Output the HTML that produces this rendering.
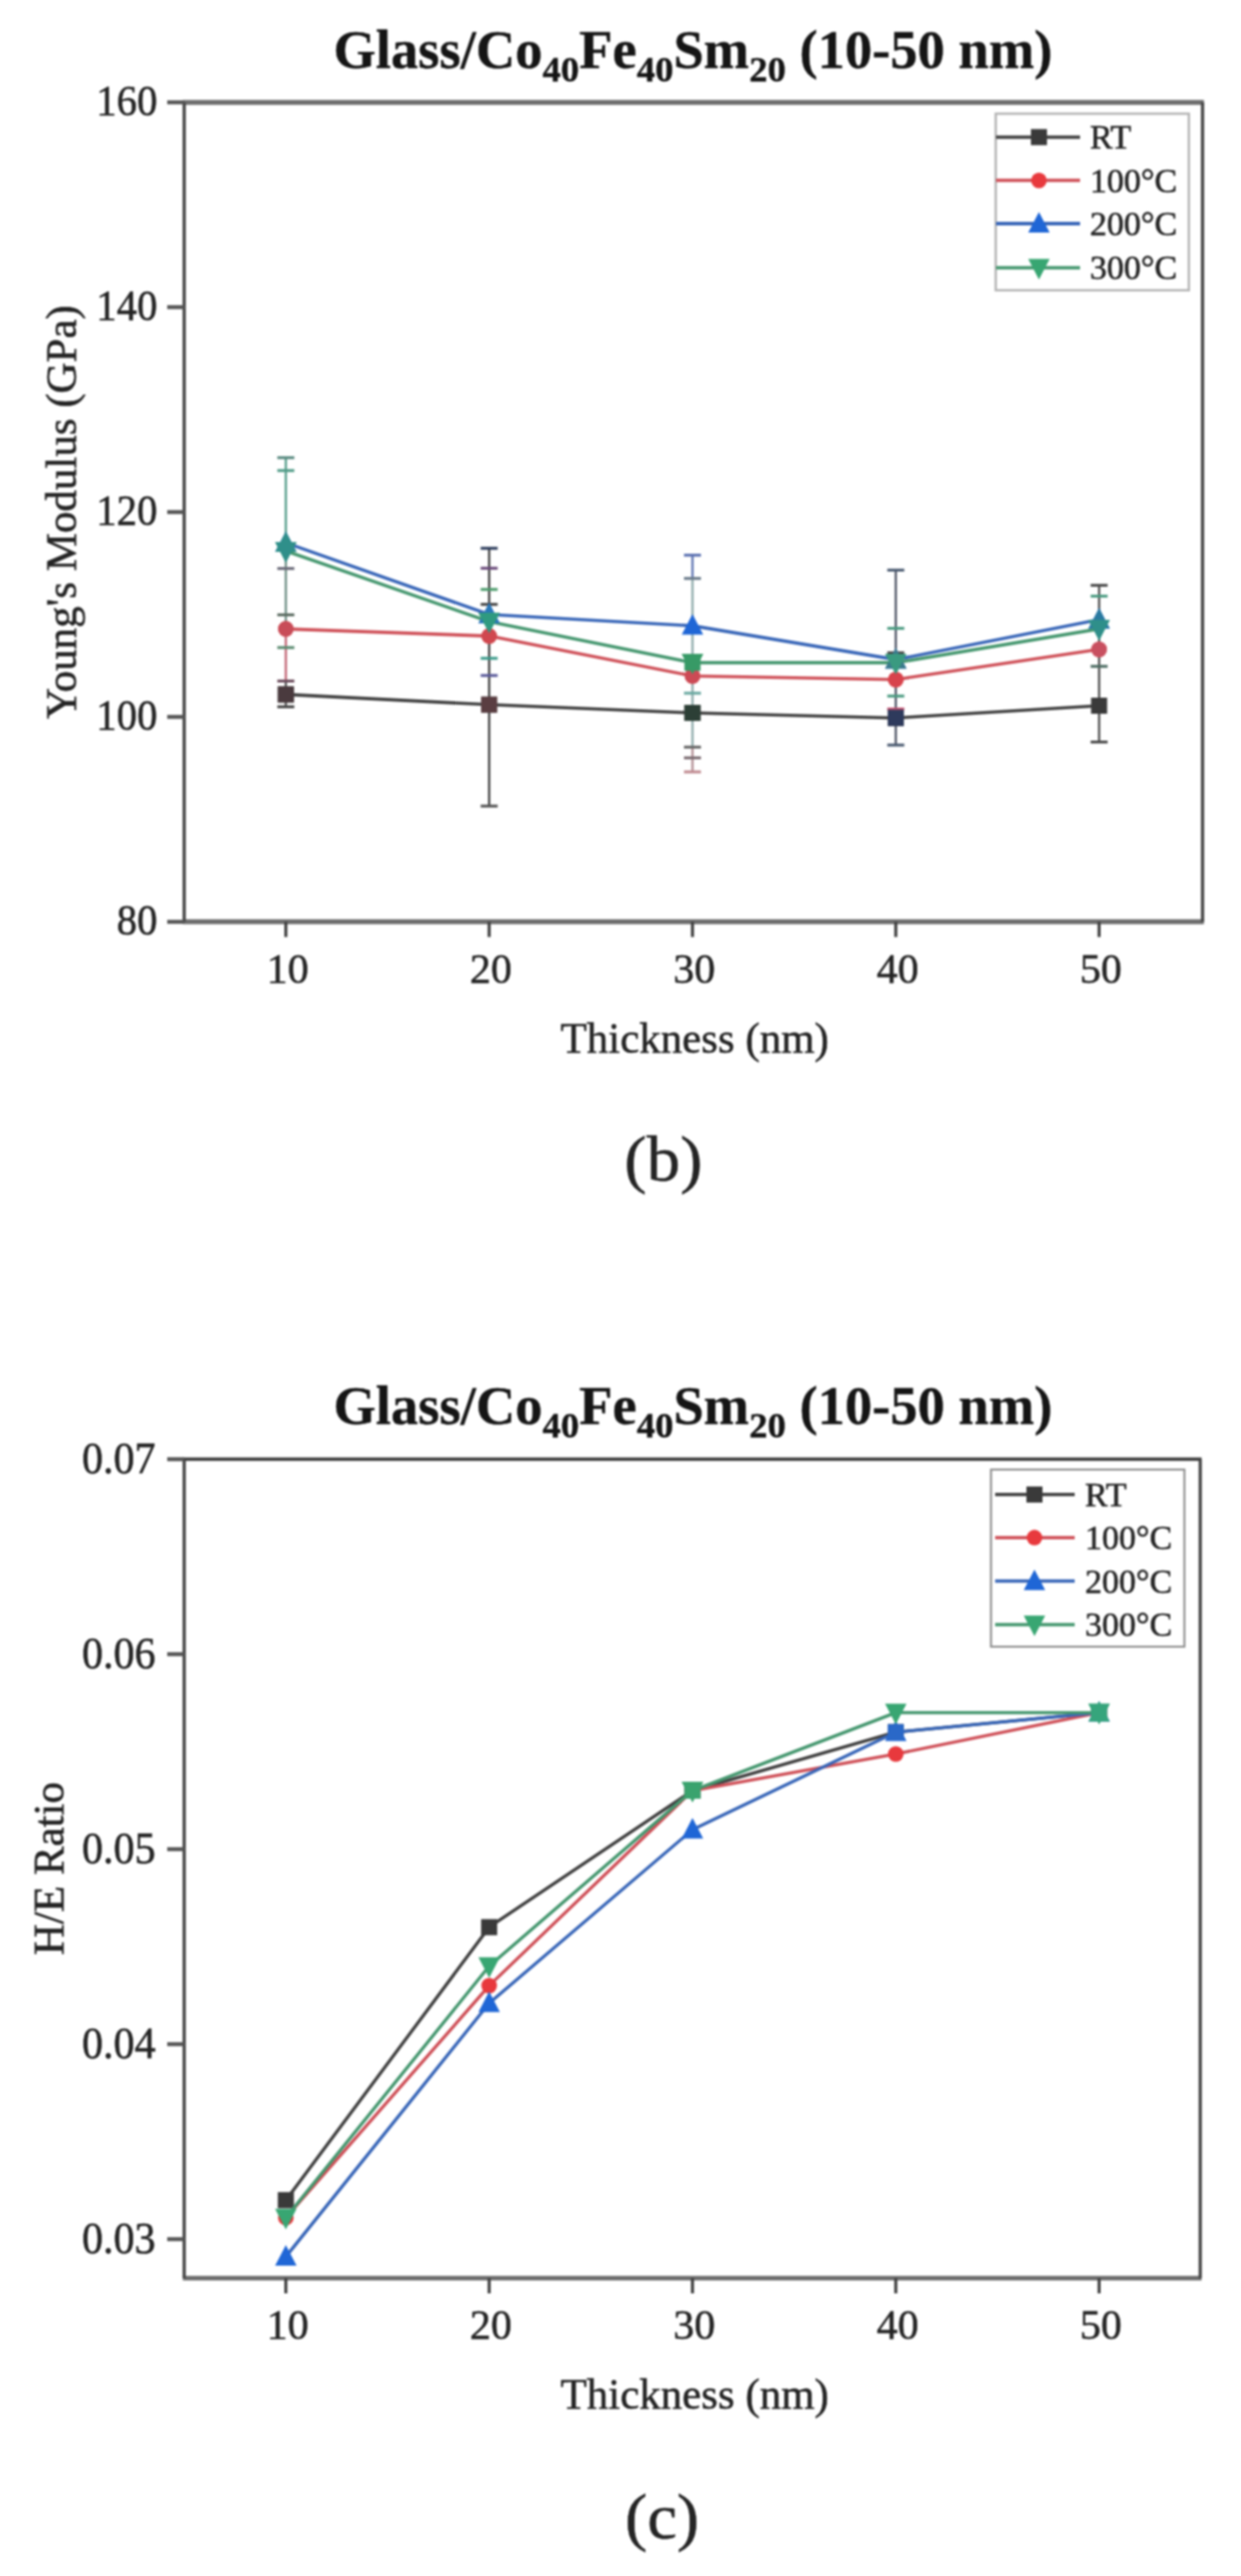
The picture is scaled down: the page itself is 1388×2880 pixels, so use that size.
<!DOCTYPE html>
<html><head><meta charset="utf-8"><style>
html,body{margin:0;padding:0;background:#fff;}
svg{display:block;filter:blur(1px);}
svg text{font-family:'Liberation Serif', serif;fill:#242424;stroke:#242424;stroke-width:0.6px;}
</style></head><body>
<svg width="1388" height="2880" viewBox="0 0 1388 2880">
<rect width="1388" height="2880" fill="#fff"/>
<text x="775" y="76" text-anchor="middle" font-size="61" font-weight="bold" style="fill:#151515;stroke:#151515;stroke-width:0.4px">Glass/Co<tspan font-size="41" dy="14.5">40</tspan><tspan dy="-14.5">Fe</tspan><tspan font-size="41" dy="14.5">40</tspan><tspan dy="-14.5">Sm</tspan><tspan font-size="41" dy="14.5">20</tspan><tspan dy="-14.5"> (10-50 nm)</tspan></text><line x1="204.5" y1="114.4" x2="1346.5" y2="114.4" stroke="#6e6e6e" stroke-width="5.5"/><line x1="204.5" y1="1030.6" x2="1346.5" y2="1030.6" stroke="#6e6e6e" stroke-width="5.5"/><line x1="206" y1="114.4" x2="206" y2="1030.6" stroke="#454545" stroke-width="3.6"/><line x1="1345" y1="114.4" x2="1345" y2="1030.6" stroke="#454545" stroke-width="3.6"/><line x1="187" y1="114.4" x2="206" y2="114.4" stroke="#555555" stroke-width="4.4"/><line x1="187" y1="343.4" x2="206" y2="343.4" stroke="#555555" stroke-width="4.4"/><line x1="187" y1="572.5" x2="206" y2="572.5" stroke="#555555" stroke-width="4.4"/><line x1="187" y1="801.5" x2="206" y2="801.5" stroke="#555555" stroke-width="4.4"/><line x1="187" y1="1030.6" x2="206" y2="1030.6" stroke="#555555" stroke-width="4.4"/><line x1="319.7" y1="1030.6" x2="319.7" y2="1047.6" stroke="#3e3e3e" stroke-width="3.4"/><line x1="547.1" y1="1030.6" x2="547.1" y2="1047.6" stroke="#3e3e3e" stroke-width="3.4"/><line x1="774.5" y1="1030.6" x2="774.5" y2="1047.6" stroke="#3e3e3e" stroke-width="3.4"/><line x1="1001.9" y1="1030.6" x2="1001.9" y2="1047.6" stroke="#3e3e3e" stroke-width="3.4"/><line x1="1229.3" y1="1030.6" x2="1229.3" y2="1047.6" stroke="#3e3e3e" stroke-width="3.4"/><text transform="translate(176,128.9) scale(1,1.07)" text-anchor="end" font-size="45.5">160</text><text transform="translate(176,357.9) scale(1,1.07)" text-anchor="end" font-size="45.5">140</text><text transform="translate(176,587.0) scale(1,1.07)" text-anchor="end" font-size="45.5">120</text><text transform="translate(176,816.0) scale(1,1.07)" text-anchor="end" font-size="45.5">100</text><text transform="translate(176,1045.1) scale(1,1.07)" text-anchor="end" font-size="45.5">80</text><text x="321.7" y="1098.6" text-anchor="middle" font-size="47">10</text><text x="549.1" y="1098.6" text-anchor="middle" font-size="47">20</text><text x="776.5" y="1098.6" text-anchor="middle" font-size="47">30</text><text x="1003.9" y="1098.6" text-anchor="middle" font-size="47">40</text><text x="1231.3" y="1098.6" text-anchor="middle" font-size="47">50</text><text transform="translate(84.5,572.5) rotate(-90)" text-anchor="middle" font-size="48">Young's Modulus (GPa)</text><text x="777" y="1176.5" text-anchor="middle" font-size="48">Thickness (nm)</text><text transform="translate(742,1320) scale(1.04,1)" text-anchor="middle" font-size="72">(b)</text><line x1="319.7" y1="511.7" x2="319.7" y2="610.0" stroke="#4f9a86" stroke-width="2.4"/><line x1="319.7" y1="610.0" x2="319.7" y2="700.0" stroke="#6a8a80" stroke-width="2.4"/><line x1="319.7" y1="700.0" x2="319.7" y2="761.0" stroke="#c06070" stroke-width="2.4"/><line x1="319.7" y1="761.0" x2="319.7" y2="790.2" stroke="#4a4a4a" stroke-width="2.4"/><line x1="310.2" y1="511.7" x2="329.2" y2="511.7" stroke="#5a8a80" stroke-width="3.2"/><line x1="310.2" y1="526.1" x2="329.2" y2="526.1" stroke="#4f9a86" stroke-width="3.2"/><line x1="310.2" y1="635.6" x2="329.2" y2="635.6" stroke="#6a6a78" stroke-width="3.2"/><line x1="310.2" y1="687.4" x2="329.2" y2="687.4" stroke="#5a6a60" stroke-width="3.2"/><line x1="310.2" y1="724.0" x2="329.2" y2="724.0" stroke="#5a8a70" stroke-width="3.2"/><line x1="310.2" y1="761.4" x2="329.2" y2="761.4" stroke="#6a4a5a" stroke-width="3.2"/><line x1="310.2" y1="790.2" x2="329.2" y2="790.2" stroke="#444444" stroke-width="3.2"/><line x1="547.1" y1="613.0" x2="547.1" y2="901.2" stroke="#3a3a3a" stroke-width="2.4"/><line x1="537.6" y1="613.0" x2="556.6" y2="613.0" stroke="#2a3a5a" stroke-width="3.2"/><line x1="537.6" y1="635.3" x2="556.6" y2="635.3" stroke="#6a4a7a" stroke-width="3.2"/><line x1="537.6" y1="659.0" x2="556.6" y2="659.0" stroke="#4a9a6a" stroke-width="3.2"/><line x1="537.6" y1="675.7" x2="556.6" y2="675.7" stroke="#444444" stroke-width="3.2"/><line x1="537.6" y1="736.0" x2="556.6" y2="736.0" stroke="#3a9a8a" stroke-width="3.2"/><line x1="537.6" y1="755.2" x2="556.6" y2="755.2" stroke="#5a5a9a" stroke-width="3.2"/><line x1="537.6" y1="901.2" x2="556.6" y2="901.2" stroke="#555555" stroke-width="3.2"/><line x1="774.5" y1="620.7" x2="774.5" y2="646.7" stroke="#5a70b0" stroke-width="2.4"/><line x1="774.5" y1="646.7" x2="774.5" y2="835.3" stroke="#8aa8a8" stroke-width="2.4"/><line x1="774.5" y1="835.3" x2="774.5" y2="863.0" stroke="#b08a90" stroke-width="2.4"/><line x1="765.0" y1="620.7" x2="784.0" y2="620.7" stroke="#5a70b0" stroke-width="3.2"/><line x1="765.0" y1="646.7" x2="784.0" y2="646.7" stroke="#6a7a8a" stroke-width="3.2"/><line x1="765.0" y1="775.0" x2="784.0" y2="775.0" stroke="#6aa8a0" stroke-width="3.2"/><line x1="765.0" y1="835.3" x2="784.0" y2="835.3" stroke="#666666" stroke-width="3.2"/><line x1="765.0" y1="847.3" x2="784.0" y2="847.3" stroke="#7a6a70" stroke-width="3.2"/><line x1="765.0" y1="863.0" x2="784.0" y2="863.0" stroke="#c08a90" stroke-width="3.2"/><line x1="1001.9" y1="637.4" x2="1001.9" y2="833.0" stroke="#4a5060" stroke-width="2.4"/><line x1="992.4" y1="637.4" x2="1011.4" y2="637.4" stroke="#4a5a70" stroke-width="3.2"/><line x1="992.4" y1="702.5" x2="1011.4" y2="702.5" stroke="#4a9a80" stroke-width="3.2"/><line x1="992.4" y1="729.9" x2="1011.4" y2="729.9" stroke="#444444" stroke-width="3.2"/><line x1="992.4" y1="778.2" x2="1011.4" y2="778.2" stroke="#4a9a80" stroke-width="3.2"/><line x1="992.4" y1="792.7" x2="1011.4" y2="792.7" stroke="#c05070" stroke-width="3.2"/><line x1="992.4" y1="833.0" x2="1011.4" y2="833.0" stroke="#4a5a70" stroke-width="3.2"/><line x1="1229.3" y1="654.4" x2="1229.3" y2="829.6" stroke="#4a4a4a" stroke-width="2.4"/><line x1="1219.8" y1="654.4" x2="1238.8" y2="654.4" stroke="#4a4a4a" stroke-width="3.2"/><line x1="1219.8" y1="666.5" x2="1238.8" y2="666.5" stroke="#4a9a80" stroke-width="3.2"/><line x1="1219.8" y1="745.0" x2="1238.8" y2="745.0" stroke="#4a6a60" stroke-width="3.2"/><line x1="1219.8" y1="829.6" x2="1238.8" y2="829.6" stroke="#4a4a4a" stroke-width="3.2"/><polyline points="319.7,776.4 547.1,787.8 774.5,797.0 1001.9,802.7 1229.3,789.0" fill="none" stroke="#404040" stroke-width="3.6" stroke-linejoin="round"/><rect x="310.7" y="767.4" width="18.0" height="18.0" fill="#3a3a3a"/><rect x="538.1" y="778.8" width="18.0" height="18.0" fill="#3a3a3a"/><rect x="765.5" y="788.0" width="18.0" height="18.0" fill="#3a3a3a"/><rect x="992.9" y="793.7" width="18.0" height="18.0" fill="#3a3a3a"/><rect x="1220.3" y="780.0" width="18.0" height="18.0" fill="#3a3a3a"/><polyline points="319.7,703.1 547.1,711.1 774.5,755.7 1001.9,759.7 1229.3,726.0" fill="none" stroke="#cf5058" stroke-width="3.6" stroke-linejoin="round"/><circle cx="319.7" cy="703.1" r="8.75" fill="#e8393d"/><circle cx="547.1" cy="711.1" r="8.75" fill="#e8393d"/><circle cx="774.5" cy="755.7" r="8.75" fill="#e8393d"/><circle cx="1001.9" cy="759.7" r="8.75" fill="#e8393d"/><circle cx="1229.3" cy="726.0" r="8.75" fill="#e8393d"/><polyline points="319.7,606.9 547.1,687.0 774.5,699.6 1001.9,737.4 1229.3,692.8" fill="none" stroke="#3866b8" stroke-width="3.6" stroke-linejoin="round"/><polygon points="319.7,593.9 331.7,616.9 307.7,616.9" fill="#1f66d6"/><polygon points="547.1,674.0 559.1,697.0 535.1,697.0" fill="#1f66d6"/><polygon points="774.5,686.6 786.5,709.6 762.5,709.6" fill="#1f66d6"/><polygon points="1001.9,724.4 1013.9,747.4 989.9,747.4" fill="#1f66d6"/><polygon points="1229.3,679.8 1241.3,702.8 1217.3,702.8" fill="#1f66d6"/><polyline points="319.7,616.0 547.1,695.0 774.5,740.9 1001.9,740.9 1229.3,703.1" fill="none" stroke="#45976f" stroke-width="3.6" stroke-linejoin="round"/><polygon points="319.7,629.0 331.7,606.0 307.7,606.0" fill="#38a672"/><polygon points="547.1,708.0 559.1,685.0 535.1,685.0" fill="#38a672"/><polygon points="774.5,753.9 786.5,730.9 762.5,730.9" fill="#38a672"/><polygon points="1001.9,753.9 1013.9,730.9 989.9,730.9" fill="#38a672"/><polygon points="1229.3,716.1 1241.3,693.1 1217.3,693.1" fill="#38a672"/><circle cx="319.7" cy="703.1" r="8.75" fill="#c84c58"/><circle cx="547.1" cy="711.1" r="8.75" fill="#d0484f"/><circle cx="774.5" cy="755.7" r="8.75" fill="#cc4a55"/><circle cx="1001.9" cy="759.7" r="8.75" fill="#d8434c"/><circle cx="1229.3" cy="726.0" r="8.75" fill="#c85060"/><rect x="310.7" y="767.4" width="18.0" height="18.0" fill="#4a3a3e"/><rect x="538.1" y="778.8" width="18.0" height="18.0" fill="#5a3e42"/><polygon points="319.7,593.9 331.7,616.9 307.7,616.9" fill="#2f8f8a"/><polygon points="319.7,629.0 331.7,606.0 307.7,606.0" fill="#2f8f8a"/><polygon points="547.1,674.0 559.1,697.0 535.1,697.0" fill="#2a78b8"/><polygon points="547.1,708.0 559.1,685.0 535.1,685.0" fill="#2f9a80"/><rect x="765.5" y="788.0" width="18.0" height="18.0" fill="#2c3f36"/><rect x="765.5" y="731.9" width="18.0" height="18.0" fill="#379a66"/><polygon points="774.5,753.9 786.5,730.9 762.5,730.9" fill="#379a66"/><rect x="992.9" y="793.7" width="18.0" height="18.0" fill="#2e3a5c"/><polygon points="1001.9,724.4 1013.9,747.4 989.9,747.4" fill="#3a7a8a"/><polygon points="1001.9,753.9 1013.9,730.9 989.9,730.9" fill="#3a9a80"/><polygon points="1229.3,679.8 1241.3,702.8 1217.3,702.8" fill="#2a7aa0"/><polygon points="1229.3,716.1 1241.3,693.1 1217.3,693.1" fill="#2f8f8a"/><rect x="1113.7" y="127.1" width="216.0" height="197.4" fill="#fff" stroke="#b4b4b4" stroke-width="2.6"/><line x1="1114" y1="153.3" x2="1208" y2="153.3" stroke="#404040" stroke-width="3.8"/><rect x="1153.0" y="144.3" width="18.0" height="18.0" fill="#3a3a3a"/><text x="1219" y="166.3" font-size="38">RT</text><line x1="1114" y1="201.7" x2="1208" y2="201.7" stroke="#cf5058" stroke-width="3.8"/><circle cx="1162.0" cy="201.7" r="8.75" fill="#e8393d"/><text x="1219" y="214.7" font-size="38">100°C</text><line x1="1114" y1="250.0" x2="1208" y2="250.0" stroke="#3866b8" stroke-width="3.8"/><polygon points="1162.0,237.0 1174.0,260.0 1150.0,260.0" fill="#1f66d6"/><text x="1219" y="263.0" font-size="38">200°C</text><line x1="1114" y1="299.4" x2="1208" y2="299.4" stroke="#45976f" stroke-width="3.8"/><polygon points="1162.0,312.4 1174.0,289.4 1150.0,289.4" fill="#38a672"/><text x="1219" y="312.4" font-size="38">300°C</text><text x="775" y="1592" text-anchor="middle" font-size="61" font-weight="bold" style="fill:#151515;stroke:#151515;stroke-width:0.4px">Glass/Co<tspan font-size="41" dy="14.5">40</tspan><tspan dy="-14.5">Fe</tspan><tspan font-size="41" dy="14.5">40</tspan><tspan dy="-14.5">Sm</tspan><tspan font-size="41" dy="14.5">20</tspan><tspan dy="-14.5"> (10-50 nm)</tspan></text><line x1="204.5" y1="1631.4" x2="1343.9" y2="1631.4" stroke="#3a3a3a" stroke-width="3.6"/><line x1="204.5" y1="2547.0" x2="1343.9" y2="2547.0" stroke="#6a6a6a" stroke-width="5"/><line x1="206" y1="1631.4" x2="206" y2="2547.0" stroke="#454545" stroke-width="3.6"/><line x1="1342.4" y1="1631.4" x2="1342.4" y2="2547.0" stroke="#454545" stroke-width="3.6"/><line x1="187" y1="1631.4" x2="206" y2="1631.4" stroke="#555555" stroke-width="4.4"/><line x1="187" y1="1849.4" x2="206" y2="1849.4" stroke="#555555" stroke-width="4.4"/><line x1="187" y1="2067.4" x2="206" y2="2067.4" stroke="#555555" stroke-width="4.4"/><line x1="187" y1="2285.4" x2="206" y2="2285.4" stroke="#555555" stroke-width="4.4"/><line x1="187" y1="2503.4" x2="206" y2="2503.4" stroke="#555555" stroke-width="4.4"/><line x1="319.7" y1="2547.0" x2="319.7" y2="2564.0" stroke="#3e3e3e" stroke-width="3.4"/><line x1="547.1" y1="2547.0" x2="547.1" y2="2564.0" stroke="#3e3e3e" stroke-width="3.4"/><line x1="774.5" y1="2547.0" x2="774.5" y2="2564.0" stroke="#3e3e3e" stroke-width="3.4"/><line x1="1001.9" y1="2547.0" x2="1001.9" y2="2564.0" stroke="#3e3e3e" stroke-width="3.4"/><line x1="1229.3" y1="2547.0" x2="1229.3" y2="2564.0" stroke="#3e3e3e" stroke-width="3.4"/><text transform="translate(174,1646.9) scale(1,1.07)" text-anchor="end" font-size="47">0.07</text><text transform="translate(174,1864.9) scale(1,1.07)" text-anchor="end" font-size="47">0.06</text><text transform="translate(174,2082.9) scale(1,1.07)" text-anchor="end" font-size="47">0.05</text><text transform="translate(174,2300.9) scale(1,1.07)" text-anchor="end" font-size="47">0.04</text><text transform="translate(174,2518.9) scale(1,1.07)" text-anchor="end" font-size="47">0.03</text><text x="321.7" y="2615.0" text-anchor="middle" font-size="47">10</text><text x="549.1" y="2615.0" text-anchor="middle" font-size="47">20</text><text x="776.5" y="2615.0" text-anchor="middle" font-size="47">30</text><text x="1003.9" y="2615.0" text-anchor="middle" font-size="47">40</text><text x="1231.3" y="2615.0" text-anchor="middle" font-size="47">50</text><text transform="translate(71,2089) rotate(-90)" text-anchor="middle" font-size="48">H/E Ratio</text><text x="777" y="2693" text-anchor="middle" font-size="48">Thickness (nm)</text><text transform="translate(740.5,2837.5) scale(1.04,1)" text-anchor="middle" font-size="72">(c)</text><polyline points="319.7,2459.8 547.1,2154.6 774.5,2002.0 1001.9,1936.6 1229.3,1914.8" fill="none" stroke="#404040" stroke-width="3.6" stroke-linejoin="round"/><rect x="310.7" y="2450.8" width="18.0" height="18.0" fill="#3a3a3a"/><rect x="538.1" y="2145.6" width="18.0" height="18.0" fill="#3a3a3a"/><rect x="765.5" y="1993.0" width="18.0" height="18.0" fill="#3a3a3a"/><rect x="992.9" y="1927.6" width="18.0" height="18.0" fill="#3a3a3a"/><rect x="1220.3" y="1905.8" width="18.0" height="18.0" fill="#3a3a3a"/><polyline points="319.7,2479.4 547.1,2220.0 774.5,2002.0 1001.9,1961.0 1229.3,1914.8" fill="none" stroke="#cf5058" stroke-width="3.6" stroke-linejoin="round"/><circle cx="319.7" cy="2479.4" r="8.75" fill="#e8393d"/><circle cx="547.1" cy="2220.0" r="8.75" fill="#e8393d"/><circle cx="774.5" cy="2002.0" r="8.75" fill="#e8393d"/><circle cx="1001.9" cy="1961.0" r="8.75" fill="#e8393d"/><circle cx="1229.3" cy="1914.8" r="8.75" fill="#e8393d"/><polyline points="319.7,2523.0 547.1,2239.6 774.5,2045.6 1001.9,1936.6 1229.3,1914.8" fill="none" stroke="#3866b8" stroke-width="3.6" stroke-linejoin="round"/><polygon points="319.7,2510.0 331.7,2533.0 307.7,2533.0" fill="#1f66d6"/><polygon points="547.1,2226.6 559.1,2249.6 535.1,2249.6" fill="#1f66d6"/><polygon points="774.5,2032.6 786.5,2055.6 762.5,2055.6" fill="#1f66d6"/><polygon points="1001.9,1923.6 1013.9,1946.6 989.9,1946.6" fill="#1f66d6"/><polygon points="1229.3,1901.8 1241.3,1924.8 1217.3,1924.8" fill="#1f66d6"/><polyline points="319.7,2479.4 547.1,2198.2 774.5,2002.0 1001.9,1914.8 1229.3,1914.8" fill="none" stroke="#45976f" stroke-width="3.6" stroke-linejoin="round"/><polygon points="319.7,2492.4 331.7,2469.4 307.7,2469.4" fill="#38a672"/><polygon points="547.1,2211.2 559.1,2188.2 535.1,2188.2" fill="#38a672"/><polygon points="774.5,2015.0 786.5,1992.0 762.5,1992.0" fill="#38a672"/><polygon points="1001.9,1927.8 1013.9,1904.8 989.9,1904.8" fill="#38a672"/><polygon points="1229.3,1927.8 1241.3,1904.8 1217.3,1904.8" fill="#38a672"/><rect x="765.5" y="1993.0" width="18.0" height="18.0" fill="#3aa36e"/><polygon points="774.5,2015.0 786.5,1992.0 762.5,1992.0" fill="#3aa36e"/><rect x="992.9" y="1927.6" width="18.0" height="18.0" fill="#2a68c8"/><rect x="1220.3" y="1905.8" width="18.0" height="18.0" fill="#36a57c"/><polygon points="1229.3,1901.8 1241.3,1924.8 1217.3,1924.8" fill="#36a57c"/><polygon points="1229.3,1927.8 1241.3,1904.8 1217.3,1904.8" fill="#36a57c"/><rect x="1108.4" y="1643" width="216.29999999999995" height="198" fill="#fff" stroke="#8c8c8c" stroke-width="2.2"/><line x1="1113" y1="1670.9" x2="1202" y2="1670.9" stroke="#404040" stroke-width="3.8"/><rect x="1148.0" y="1661.9" width="18.0" height="18.0" fill="#3a3a3a"/><text x="1213.6" y="1683.9" font-size="38">RT</text><line x1="1113" y1="1719.1" x2="1202" y2="1719.1" stroke="#cf5058" stroke-width="3.8"/><circle cx="1157.0" cy="1719.1" r="8.75" fill="#e8393d"/><text x="1213.6" y="1732.1" font-size="38">100°C</text><line x1="1113" y1="1767.7" x2="1202" y2="1767.7" stroke="#3866b8" stroke-width="3.8"/><polygon points="1157.0,1754.7 1169.0,1777.7 1145.0,1777.7" fill="#1f66d6"/><text x="1213.6" y="1780.7" font-size="38">200°C</text><line x1="1113" y1="1816.3" x2="1202" y2="1816.3" stroke="#45976f" stroke-width="3.8"/><polygon points="1157.0,1829.3 1169.0,1806.3 1145.0,1806.3" fill="#38a672"/><text x="1213.6" y="1829.3" font-size="38">300°C</text>
</svg>
</body></html>
